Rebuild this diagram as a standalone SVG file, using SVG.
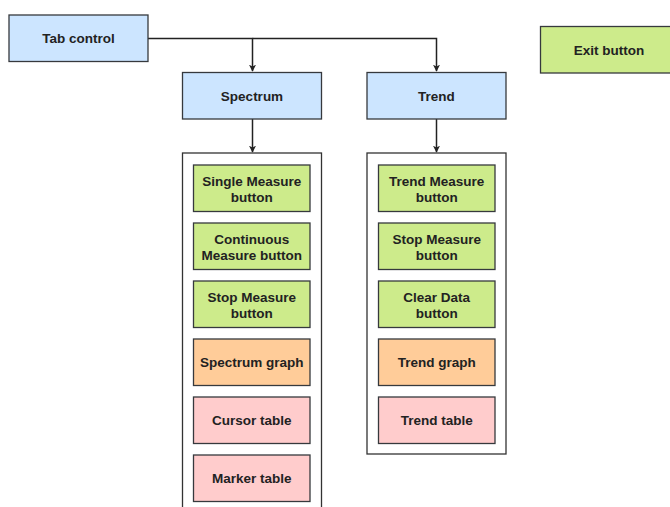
<svg xmlns="http://www.w3.org/2000/svg" width="670" height="507" viewBox="0 0 670 507">
<defs>
<style>
.box{stroke:#36393d;stroke-width:1.3}
.blue{fill:#cce5ff}
.green{fill:#cdeb8b}
.orange{fill:#ffcc99}
.pink{fill:#ffcccc}
.cont{fill:#ffffff;stroke:#333333;stroke-width:1.3}
text{font-family:"Liberation Sans",Arial,sans-serif;font-weight:bold;font-size:13.5px;fill:#222222;text-anchor:middle}
.edge{fill:none;stroke:#222222;stroke-width:1.5}
</style>
<marker id="arr" viewBox="0 0 10 10" refX="9" refY="5" markerWidth="7" markerHeight="7" orient="auto" markerUnits="userSpaceOnUse">
<path d="M0,0 L10,5 L0,10 L2.5,5 Z" fill="#222222"/>
</marker>
</defs>
<rect width="670" height="507" fill="#ffffff"/>
<g id="connectors">
<path class="edge" d="M148,38.5 H252.5 V71" marker-end="url(#arr)"/>
<path class="edge" d="M252.5,38.5 H436.5 V71" marker-end="url(#arr)"/>
<path class="edge" d="M252.5,119 V152" marker-end="url(#arr)"/>
<path class="edge" d="M436.5,119 V152" marker-end="url(#arr)"/>
</g>
<g id="tab-control"><rect class="box blue" x="9" y="15" width="139" height="46.5"/><text x="78.5" y="43">Tab control</text></g>
<g id="exit-button"><rect class="box green" x="540.5" y="26.5" width="138" height="46.5"/><text x="609" y="54.5">Exit button</text></g>
<g id="spectrum"><rect class="box blue" x="182.5" y="72.5" width="139" height="46.5"/><text x="252" y="100.5">Spectrum</text></g>
<g id="trend"><rect class="box blue" x="367" y="72.5" width="139" height="46.5"/><text x="436.5" y="100.5">Trend</text></g>
<g id="spectrum-panel"><rect class="cont" x="182.5" y="153" width="139" height="370"/></g>
<g id="trend-panel"><rect class="cont" x="367" y="153" width="139" height="301"/></g>
<g id="single-measure"><rect class="box green" x="193.5" y="165" width="116.5" height="46.5"/><text x="251.75" y="185.5">Single Measure</text><text x="251.75" y="201.5">button</text></g>
<g id="continuous-measure"><rect class="box green" x="193.5" y="223" width="116.5" height="46.5"/><text x="251.75" y="243.5">Continuous</text><text x="251.75" y="259.5">Measure button</text></g>
<g id="stop-measure-s"><rect class="box green" x="193.5" y="281" width="116.5" height="46.5"/><text x="251.75" y="301.5">Stop Measure</text><text x="251.75" y="317.5">button</text></g>
<g id="spectrum-graph"><rect class="box orange" x="193.5" y="339" width="116.5" height="46.5"/><text x="251.75" y="367">Spectrum graph</text></g>
<g id="cursor-table"><rect class="box pink" x="193.5" y="397" width="116.5" height="46.5"/><text x="251.75" y="425">Cursor table</text></g>
<g id="marker-table"><rect class="box pink" x="193.5" y="455" width="116.5" height="46.5"/><text x="251.75" y="483">Marker table</text></g>
<g id="trend-measure"><rect class="box green" x="378.5" y="165" width="116.5" height="46.5"/><text x="436.75" y="185.5">Trend Measure</text><text x="436.75" y="201.5">button</text></g>
<g id="stop-measure-t"><rect class="box green" x="378.5" y="223" width="116.5" height="46.5"/><text x="436.75" y="243.5">Stop Measure</text><text x="436.75" y="259.5">button</text></g>
<g id="clear-data"><rect class="box green" x="378.5" y="281" width="116.5" height="46.5"/><text x="436.75" y="301.5">Clear Data</text><text x="436.75" y="317.5">button</text></g>
<g id="trend-graph"><rect class="box orange" x="378.5" y="339" width="116.5" height="46.5"/><text x="436.75" y="367">Trend graph</text></g>
<g id="trend-table"><rect class="box pink" x="378.5" y="397" width="116.5" height="46.5"/><text x="436.75" y="425">Trend table</text></g>
</svg>
